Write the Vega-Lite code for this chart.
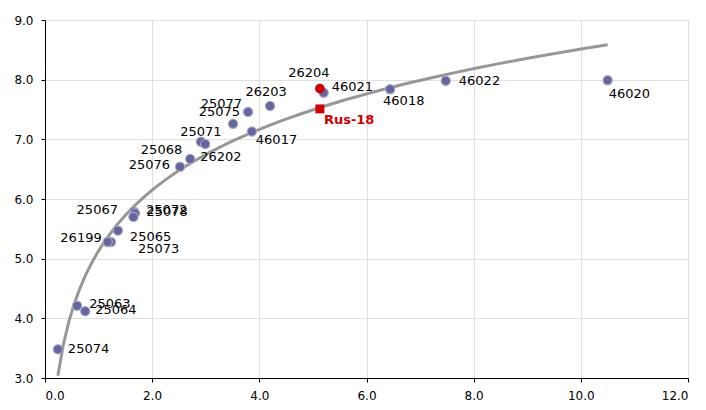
{
  "$schema": "https://vega.github.io/schema/vega-lite/v6.json",
  "width": 643,
  "height": 358,
  "autosize": "none",
  "padding": {"left": 45, "top": 20, "right": 18, "bottom": 32},
  "background": "white",
  "config": {
    "view": {"stroke": null},
    "font": "DejaVu Sans",
    "text": {"font": "DejaVu Sans"},
    "axis": {
      "labelFont": "DejaVu Sans",
      "labelFontSize": 12,
      "labelColor": "#000000",
      "domainColor": "#000000",
      "tickColor": "#000000",
      "gridColor": "#E0E0E0",
      "gridWidth": 1,
      "tickSize": 4,
      "title": null
    }
  },
  "datasets": {
    "pts": [
      {"id": "25074", "x": 0.24, "y": 3.48},
      {"id": "25063", "x": 0.60, "y": 4.21},
      {"id": "25064", "x": 0.75, "y": 4.12},
      {"id": "25065", "x": 1.36, "y": 5.47},
      {"id": "25073", "x": 1.23, "y": 5.28},
      {"id": "26199", "x": 1.17, "y": 5.28},
      {"id": "25067", "x": 1.66, "y": 5.79},
      {"id": "25072", "x": 1.68, "y": 5.76},
      {"id": "25078", "x": 1.65, "y": 5.70},
      {"id": "25076", "x": 2.52, "y": 6.54},
      {"id": "25068", "x": 2.71, "y": 6.67},
      {"id": "25071", "x": 2.91, "y": 6.96},
      {"id": "26202", "x": 2.99, "y": 6.92},
      {"id": "25075", "x": 3.51, "y": 7.26},
      {"id": "25077", "x": 3.79, "y": 7.46},
      {"id": "46017", "x": 3.86, "y": 7.13},
      {"id": "26203", "x": 4.20, "y": 7.56},
      {"id": "46021", "x": 5.20, "y": 7.78},
      {"id": "46018", "x": 6.44, "y": 7.84},
      {"id": "46022", "x": 7.48, "y": 7.98},
      {"id": "46020", "x": 10.50, "y": 7.99}
    ],
    "red": [
      {"id": "26204", "x": 5.13, "y": 7.85, "kind": "circle"},
      {"id": "Rus-18", "x": 5.13, "y": 7.51, "kind": "square"}
    ]
  },
  "encoding": {
    "x": {"field": "x", "type": "quantitative", "scale": {"domain": [0, 12], "nice": false, "zero": false},
      "axis": {"values": [0, 2, 4, 6, 8, 10, 12], "format": ".1f", "grid": true, "labelPadding": 8}},
    "y": {"field": "y", "type": "quantitative", "scale": {"domain": [3, 9], "nice": false, "zero": false},
      "axis": {"values": [3, 4, 5, 6, 7, 8, 9], "format": ".1f", "grid": true, "labelPadding": 8}}
  },
  "layer": [
    {
      "data": {"name": "pts"},
      "transform": [{"regression": "y", "on": "x", "method": "log"}],
      "mark": {"type": "line", "color": "#979797", "strokeWidth": 3, "clip": true},
      "encoding": {}
    },
    {
      "data": {"name": "pts"},
      "mark": {"type": "point", "shape": "circle", "filled": true, "size": 85, "color": "#65659F", "stroke": "#A8A8C0", "strokeWidth": 1.2, "opacity": 1}
    },
    {
      "data": {"name": "red"},
      "transform": [{"filter": "datum.kind == 'circle'"}],
      "mark": {"type": "point", "shape": "circle", "filled": true, "size": 95, "color": "#D00000", "opacity": 1}
    },
    {
      "data": {"name": "red"},
      "transform": [{"filter": "datum.kind == 'square'"}],
      "mark": {"type": "point", "shape": "square", "filled": true, "size": 80, "color": "#D00000", "opacity": 1}
    },
    {
      "data": {"name": "red"},
      "transform": [{"filter": "datum.kind == 'square'"}],
      "mark": {"type": "text", "align": "left", "baseline": "middle", "dx": 4, "dy": 11, "fontSize": 13, "fontWeight": "bold", "color": "#D00000"},
      "encoding": {"text": {"field": "id"}}
    },
    {
      "data": {"name": "red"},
      "transform": [{"filter": "datum.kind == 'circle'"}],
      "mark": {"type": "text", "align": "center", "baseline": "middle", "dx": -11, "dy": -16, "fontSize": 13, "color": "#000000"},
      "encoding": {"text": {"field": "id"}}
    },
    {
      "data": {"name": "pts"},
      "encoding": {"text": {"field": "id"}},
      "layer": [
        {"transform": [{"filter": "datum.id == '25074'"}], "mark": {"type": "text", "align": "left", "baseline": "middle", "dx": 10, "dy": 0, "fontSize": 13}},
        {"transform": [{"filter": "datum.id == '25063'"}], "mark": {"type": "text", "align": "left", "baseline": "middle", "dx": 12, "dy": -2, "fontSize": 13}},
        {"transform": [{"filter": "datum.id == '25064'"}], "mark": {"type": "text", "align": "left", "baseline": "middle", "dx": 10, "dy": -1, "fontSize": 13}},
        {"transform": [{"filter": "datum.id == '25065'"}], "mark": {"type": "text", "align": "left", "baseline": "middle", "dx": 12, "dy": 6, "fontSize": 13}},
        {"transform": [{"filter": "datum.id == '25073'"}], "mark": {"type": "text", "align": "left", "baseline": "middle", "dx": 27, "dy": 7, "fontSize": 13}},
        {"transform": [{"filter": "datum.id == '26199'"}], "mark": {"type": "text", "align": "right", "baseline": "middle", "dx": -6, "dy": -4, "fontSize": 13}},
        {"transform": [{"filter": "datum.id == '25067'"}], "mark": {"type": "text", "align": "right", "baseline": "middle", "dx": -16, "dy": -2, "fontSize": 13}},
        {"transform": [{"filter": "datum.id == '25072'"}], "mark": {"type": "text", "align": "left", "baseline": "middle", "dx": 11, "dy": -3, "fontSize": 13}},
        {"transform": [{"filter": "datum.id == '25078'"}], "mark": {"type": "text", "align": "left", "baseline": "middle", "dx": 13, "dy": -5, "fontSize": 13}},
        {"transform": [{"filter": "datum.id == '25076'"}], "mark": {"type": "text", "align": "right", "baseline": "middle", "dx": -10, "dy": -2, "fontSize": 13}},
        {"transform": [{"filter": "datum.id == '25068'"}], "mark": {"type": "text", "align": "right", "baseline": "middle", "dx": -8, "dy": -9, "fontSize": 13}},
        {"transform": [{"filter": "datum.id == '25071'"}], "mark": {"type": "text", "align": "center", "baseline": "middle", "dx": 0, "dy": -10, "fontSize": 13}},
        {"transform": [{"filter": "datum.id == '26202'"}], "mark": {"type": "text", "align": "left", "baseline": "middle", "dx": -5, "dy": 13, "fontSize": 13}},
        {"transform": [{"filter": "datum.id == '25075'"}], "mark": {"type": "text", "align": "right", "baseline": "middle", "dx": 7, "dy": -12, "fontSize": 13}},
        {"transform": [{"filter": "datum.id == '25077'"}], "mark": {"type": "text", "align": "right", "baseline": "middle", "dx": -6, "dy": -8, "fontSize": 13}},
        {"transform": [{"filter": "datum.id == '46017'"}], "mark": {"type": "text", "align": "left", "baseline": "middle", "dx": 4, "dy": 8, "fontSize": 13}},
        {"transform": [{"filter": "datum.id == '26203'"}], "mark": {"type": "text", "align": "center", "baseline": "middle", "dx": -4, "dy": -14, "fontSize": 13}},
        {"transform": [{"filter": "datum.id == '46021'"}], "mark": {"type": "text", "align": "left", "baseline": "middle", "dx": 8, "dy": -6, "fontSize": 13}},
        {"transform": [{"filter": "datum.id == '46018'"}], "mark": {"type": "text", "align": "left", "baseline": "middle", "dx": -7, "dy": 12, "fontSize": 13}},
        {"transform": [{"filter": "datum.id == '46022'"}], "mark": {"type": "text", "align": "left", "baseline": "middle", "dx": 13, "dy": 0, "fontSize": 13}},
        {"transform": [{"filter": "datum.id == '46020'"}], "mark": {"type": "text", "align": "left", "baseline": "middle", "dx": 1, "dy": 14, "fontSize": 13}}
      ]
    }
  ]
}
